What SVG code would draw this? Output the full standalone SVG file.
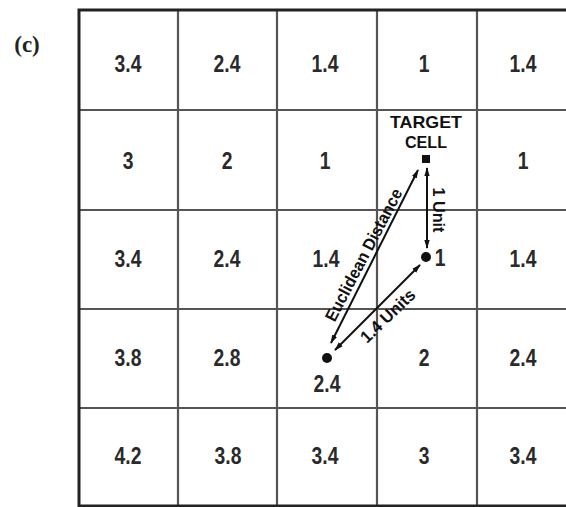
<svg xmlns="http://www.w3.org/2000/svg" width="566" height="507" viewBox="0 0 566 507">
<style>
.grid{stroke:#555;stroke-width:2.2;fill:none}
.border{stroke:#222;stroke-width:3;fill:none}
.v{font-family:"Liberation Sans",Arial,sans-serif;font-weight:bold;font-size:23px;fill:#2a2a2a;text-anchor:middle}
.lbl{font-family:"Liberation Sans",Arial,sans-serif;font-weight:bold;font-size:17px;fill:#111;text-anchor:middle}
.ar{stroke:#111;stroke-width:2;fill:none;marker-start:url(#ah);marker-end:url(#ah)}
</style>
<defs>
<marker id="ah" viewBox="0 0 10 10" refX="9" refY="5" markerWidth="4.5" markerHeight="4.5" orient="auto-start-reverse" markerUnits="strokeWidth">
<path d="M0,2 L10,5 L0,8 z" fill="#111"/>
</marker>
</defs>
<rect width="566" height="507" fill="#fff"/>
<text x="27" y="52" style="font-family:'Liberation Serif',serif;font-weight:bold;font-size:23px;fill:#222" text-anchor="middle">(c)</text>
<g id="grid">
<path class="grid" d="M178,10V506M277,10V506M377,10V506M477,10V506M79,110H566M79,210H566M79,309H566M79,408H566"/>
<path class="border" d="M566,10H79V506H566"/>
</g>
<g id="values">
<text class="v" transform="translate(128,72) scale(.84,1)">3.4</text>
<text class="v" transform="translate(227,72) scale(.84,1)">2.4</text>
<text class="v" transform="translate(325,72) scale(.84,1)">1.4</text>
<text class="v" transform="translate(424,72) scale(.84,1)">1</text>
<text class="v" transform="translate(523,72) scale(.84,1)">1.4</text>
<text class="v" transform="translate(128,169) scale(.84,1)">3</text>
<text class="v" transform="translate(227,169) scale(.84,1)">2</text>
<text class="v" transform="translate(325,169) scale(.84,1)">1</text>
<text class="v" transform="translate(523,169) scale(.84,1)">1</text>
<text class="v" transform="translate(128,267) scale(.84,1)">3.4</text>
<text class="v" transform="translate(227,267) scale(.84,1)">2.4</text>
<text class="v" transform="translate(326,267) scale(.84,1)">1.4</text>
<text class="v" transform="translate(523,267) scale(.84,1)">1.4</text>
<text class="v" transform="translate(128,366) scale(.84,1)">3.8</text>
<text class="v" transform="translate(227,366) scale(.84,1)">2.8</text>
<text class="v" transform="translate(424,366) scale(.84,1)">2</text>
<text class="v" transform="translate(523,366) scale(.84,1)">2.4</text>
<text class="v" transform="translate(128,464) scale(.84,1)">4.2</text>
<text class="v" transform="translate(228,464) scale(.84,1)">3.8</text>
<text class="v" transform="translate(325,464) scale(.84,1)">3.4</text>
<text class="v" transform="translate(424,464) scale(.84,1)">3</text>
<text class="v" transform="translate(523,464) scale(.84,1)">3.4</text>
</g>
<g id="target">
<text class="lbl" x="426" y="128" textLength="72" lengthAdjust="spacingAndGlyphs">TARGET</text>
<text class="lbl" x="426" y="148" textLength="42" lengthAdjust="spacingAndGlyphs">CELL</text>
<rect x="422" y="155" width="8" height="8" fill="#111"/>
</g>
<g id="p1">
<circle cx="426" cy="257" r="5" fill="#111"/>
<text class="v" transform="translate(440,266) scale(.84,1)">1</text>
</g>
<g id="p24">
<circle cx="327" cy="358" r="5" fill="#111"/>
<text class="v" transform="translate(327,392) scale(.84,1)">2.4</text>
</g>
<g id="connectors">
<line class="ar" x1="331" y1="343" x2="418" y2="170"/>
<line class="ar" x1="427" y1="168" x2="427" y2="248"/>
<line class="ar" x1="335" y1="350" x2="420" y2="265"/>
<text class="lbl" transform="translate(364,255) rotate(-62.4) translate(0,5.5)" textLength="147" lengthAdjust="spacingAndGlyphs">Euclidean Distance</text>
<text class="lbl" transform="translate(438,210) rotate(90) translate(0,5.5)" textLength="45" lengthAdjust="spacingAndGlyphs">1 Unit</text>
<text class="lbl" transform="translate(388,316) rotate(-44) translate(0,5.5)" textLength="69" lengthAdjust="spacingAndGlyphs">1.4 Units</text>
</g>
</svg>
